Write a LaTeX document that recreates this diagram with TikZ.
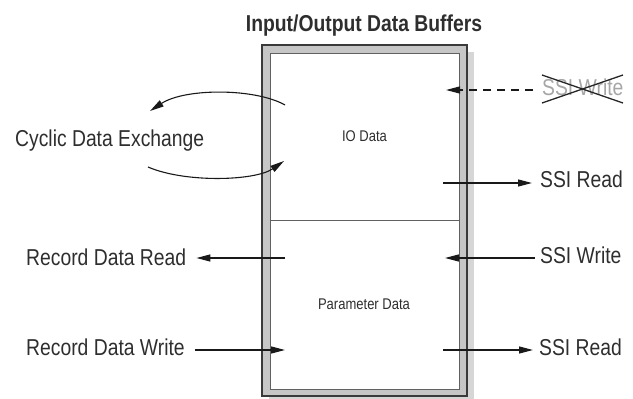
\documentclass[tikz,border=0pt]{standalone}
\usepackage{fontspec}
\setmainfont{Liberation Sans}[FakeStretch=0.84]
\usepackage{tikz}
\usetikzlibrary{arrows.meta, calc}

\definecolor{framegray}{HTML}{C6C6C6}
\definecolor{shadowgray}{HTML}{D6D6D6}
\definecolor{linegray}{HTML}{3A3A3A}
\definecolor{textgray}{HTML}{2E2E2E}
\definecolor{oldgray}{HTML}{A6A6A6}

\begin{document}
\begin{tikzpicture}[x=1pt, y=-1pt,
    label/.style={inner sep=0pt, text=textgray, font=\fontsize{23}{25}\selectfont},
    small/.style={inner sep=0pt, text=textgray, font=\fontsize{15.5}{17}\selectfont},
    sig/.style={draw=black!90, line width=1.3pt, -{Triangle[length=14pt, width=7pt]}}]
    \useasboundingbox (0,0) rectangle (633,399);

    % Draw the buffer frame with its shadow
    \fill[shadowgray] (269,52) rectangle (474,404);
    \draw[linegray, line width=1.8pt, fill=framegray] (262,45) rectangle (467,396);
    \draw[linegray!80, line width=1pt, fill=white] (270,53) rectangle (459,389);
    \draw[linegray!80, line width=1pt] (270,220) -- (459,220);

    % Add labels
    \node[label, font=\fontsize{23}{25}\selectfont\bfseries, anchor=base] (title) at (364,31) {Input/Output Data Buffers};
    \node[small, anchor=base] (io) at (364.5,141.5) {IO Data};
    \node[small, anchor=base] (param) at (364,309) {Parameter Data};
    \node[label, anchor=base west] (cyclic) at (15,146) {Cyclic Data Exchange};
    \node[label, anchor=base west] (rdread) at (26,265) {Record Data Read};
    \node[label, anchor=base west] (rdwrite) at (26,355) {Record Data Write};
    \node[label, anchor=base west, text=oldgray] (ssiold) at (542,95) {SSI Write};
    \node[label, anchor=base west] (ssiread) at (540,187) {SSI Read};
    \node[label, anchor=base west] (ssiwrite) at (540,263) {SSI Write};
    \node[label, anchor=base west] (ssiparam) at (539,355) {SSI Read};

    % Ends of the signals inside the buffers
    \coordinate (iowin) at (446,90);
    \coordinate (iorout) at (443,183);
    \coordinate (prout) at (285,258);
    \coordinate (pwin) at (445,258);
    \coordinate (pwout) at (285,350);
    \coordinate (prdout) at (443,350);
    \coordinate (cycout) at (285,105);
    \coordinate (cycoutend) at (150,111);
    \coordinate (cycin) at (148,167);
    \coordinate (cycinend) at (284,161);

    % Add arrows to show direction
    \draw[sig, dash pattern=on 8pt off 6pt, shorten <=9pt] (ssiold.west |- iowin) -- (iowin);
    \draw[sig, shorten >=8pt] (iorout) -- (ssiread.west |- iorout);
    \draw[sig, shorten <=5pt] (ssiwrite.west |- pwin) -- (pwin);
    \draw[sig, shorten >=6pt] (prdout) -- (ssiparam.west |- prdout);
    \draw[sig, shorten >=10pt] (prout) -- (rdread.east |- prout);
    \draw[sig, shorten <=10pt] (rdwrite.east |- pwout) -- (pwout);
    \draw[sig, line width=1.1pt] (cycout) .. controls (255,88) and (185,88) .. (cycoutend);
    \draw[sig, line width=1.1pt] (cycin) .. controls (185,183) and (255,181) .. (cycinend);

    % Cross out the old write
    \draw[black!85, line width=1.3pt] (542,75) -- (623,103);
    \draw[black!85, line width=1.3pt] (542,103) -- (623,75);
\end{tikzpicture}
\end{document}
